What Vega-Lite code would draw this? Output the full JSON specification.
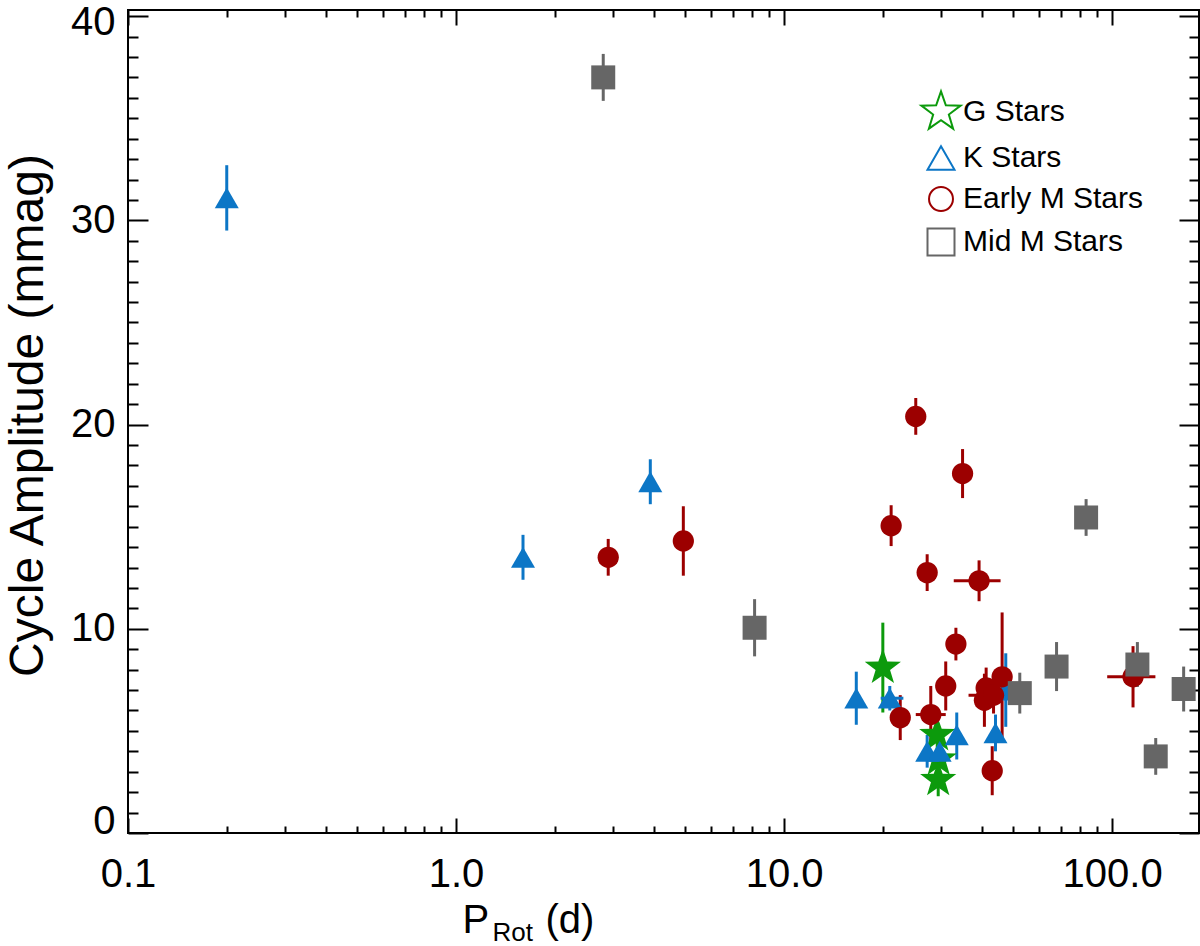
{
  "$schema": "https://vega.github.io/schema/vega-lite/v6.json",
  "width": 1071,
  "height": 823,
  "autosize": {"type": "none"},
  "padding": {"left": 128, "top": 10, "right": 1, "bottom": 113},
  "background": "white",
  "config": {
    "font": "Liberation Sans",
    "view": {"stroke": "black", "strokeWidth": 2},
    "axis": {
      "grid": false,
      "domain": false,
      "tickColor": "black",
      "tickWidth": 2,
      "labelColor": "black",
      "labelFont": "Liberation Sans",
      "titleFont": "Liberation Sans",
      "titleColor": "black",
      "titleFontWeight": "normal",
      "labelFlush": false,
      "labelBound": false
    }
  },
  "data": {
    "values": [
      {"g": "G Stars", "p": 20.0, "a": 8.1, "alo": 5.9, "ahi": 10.3},
      {"g": "G Stars", "p": 29.3, "a": 4.8, "alo": 3.9, "ahi": 5.7},
      {"g": "G Stars", "p": 29.6, "a": 3.6, "alo": 2.7, "ahi": 4.5},
      {"g": "G Stars", "p": 29.5, "a": 2.6, "alo": 1.8, "ahi": 3.4},
      {"g": "K Stars", "p": 0.2, "a": 31.1, "alo": 29.5, "ahi": 32.7},
      {"g": "K Stars", "p": 1.6, "a": 13.5, "alo": 12.4, "ahi": 14.6},
      {"g": "K Stars", "p": 3.91, "a": 17.2, "alo": 16.1, "ahi": 18.3},
      {"g": "K Stars", "p": 16.6, "a": 6.6, "alo": 5.3, "ahi": 7.9},
      {"g": "K Stars", "p": 21.0, "a": 6.6, "alo": 6.0, "ahi": 7.2, "plo": 19.7, "phi": 23.1},
      {"g": "K Stars", "p": 27.3, "a": 4.0, "alo": 3.2, "ahi": 4.8},
      {"g": "K Stars", "p": 29.8, "a": 4.0, "alo": 3.2, "ahi": 4.8},
      {"g": "K Stars", "p": 33.6, "a": 4.8, "alo": 3.6, "ahi": 5.9},
      {"g": "K Stars", "p": 44.1, "a": 4.9, "alo": 4.0, "ahi": 5.8},
      {"g": "K Stars", "p": 47.4, "a": 7.0, "alo": 5.2, "ahi": 8.8},
      {"g": "Early M Stars", "p": 2.91, "a": 13.5, "alo": 12.6, "ahi": 14.4},
      {"g": "Early M Stars", "p": 4.93, "a": 14.3, "alo": 12.6, "ahi": 16.0},
      {"g": "Early M Stars", "p": 25.2, "a": 20.4, "alo": 19.5, "ahi": 21.3},
      {"g": "Early M Stars", "p": 35.0, "a": 17.6, "alo": 16.4, "ahi": 18.8},
      {"g": "Early M Stars", "p": 21.2, "a": 15.05, "alo": 14.05, "ahi": 16.05},
      {"g": "Early M Stars", "p": 27.3, "a": 12.75, "alo": 11.85, "ahi": 13.65},
      {"g": "Early M Stars", "p": 39.3, "a": 12.35, "alo": 11.35, "ahi": 13.35, "plo": 32.9, "phi": 45.7},
      {"g": "Early M Stars", "p": 22.6, "a": 5.65, "alo": 4.55, "ahi": 6.75},
      {"g": "Early M Stars", "p": 28.0, "a": 5.8, "alo": 4.4, "ahi": 7.2, "plo": 25.2, "phi": 31.1},
      {"g": "Early M Stars", "p": 31.1, "a": 7.2, "alo": 6.0, "ahi": 8.4},
      {"g": "Early M Stars", "p": 33.4, "a": 9.25, "alo": 8.45, "ahi": 10.05},
      {"g": "Early M Stars", "p": 43.1, "a": 3.05, "alo": 1.85, "ahi": 4.25},
      {"g": "Early M Stars", "p": 40.8, "a": 6.5, "alo": 5.2, "ahi": 7.8},
      {"g": "Early M Stars", "p": 41.3, "a": 7.1, "alo": 6.1, "ahi": 8.1},
      {"g": "Early M Stars", "p": 43.5, "a": 6.75, "alo": 5.85, "ahi": 7.65, "plo": 36.5, "phi": 51.8},
      {"g": "Early M Stars", "p": 46.2, "a": 7.65, "alo": 4.5, "ahi": 10.8},
      {"g": "Early M Stars", "p": 115.8, "a": 7.65, "alo": 6.15, "ahi": 9.15, "plo": 96.6, "phi": 135.5},
      {"g": "Mid M Stars", "p": 2.81, "a": 37.0, "alo": 35.85, "ahi": 38.15},
      {"g": "Mid M Stars", "p": 8.13, "a": 10.05, "alo": 8.65, "ahi": 11.45},
      {"g": "Mid M Stars", "p": 83.3, "a": 15.45, "alo": 14.55, "ahi": 16.35},
      {"g": "Mid M Stars", "p": 52.3, "a": 6.85, "alo": 5.85, "ahi": 7.85},
      {"g": "Mid M Stars", "p": 67.7, "a": 8.15, "alo": 6.95, "ahi": 9.35},
      {"g": "Mid M Stars", "p": 119.4, "a": 8.25, "alo": 7.15, "ahi": 9.35},
      {"g": "Mid M Stars", "p": 165.2, "a": 7.05, "alo": 5.95, "ahi": 8.15},
      {"g": "Mid M Stars", "p": 135.8, "a": 3.75, "alo": 2.85, "ahi": 4.65}
    ]
  },
  "layer": [
    {
      "mark": {"type": "point", "opacity": 0},
      "encoding": {
        "x": {
          "field": "p",
          "type": "quantitative",
          "scale": {"type": "log", "domain": [0.1, 184], "nice": false},
          "axis": {"orient": "bottom", "values": [0.1, 1, 10, 100], "tickSize": -15, "labels": false, "title": null}
        },
        "y": {
          "field": "a",
          "type": "quantitative",
          "scale": {"domain": [0, 40.3], "nice": false, "zero": false},
          "axis": {"orient": "left", "values": [0, 10, 20, 30, 40], "tickSize": -20, "labels": false, "title": null}
        }
      }
    },
    {
      "mark": {"type": "point", "opacity": 0},
      "encoding": {
        "x": {
          "field": "p",
          "type": "quantitative",
          "scale": {"type": "log", "domain": [0.1, 184], "nice": false},
          "axis": {
            "orient": "bottom",
            "values": [0.2, 0.3, 0.4, 0.5, 0.6, 0.7, 0.8, 0.9, 2, 3, 4, 5, 6, 7, 8, 9, 20, 30, 40, 50, 60, 70, 80, 90],
            "tickSize": -7,
            "labels": false,
            "title": "Rot",
            "titleFontSize": 26,
            "titleX": 364,
            "titleY": 107,
            "titleAlign": "left",
            "titleBaseline": "alphabetic"
          }
        },
        "y": {
          "field": "a",
          "type": "quantitative",
          "scale": {"domain": [0, 40.3], "nice": false, "zero": false},
          "axis": {
            "orient": "left",
            "values": [1, 2, 3, 4, 5, 6, 7, 8, 9, 11, 12, 13, 14, 15, 16, 17, 18, 19, 21, 22, 23, 24, 25, 26, 27, 28, 29, 31, 32, 33, 34, 35, 36, 37, 38, 39],
            "tickSize": -10,
            "labels": false,
            "title": null
          }
        }
      }
    },
    {
      "mark": {"type": "rule", "strokeWidth": 3},
      "encoding": {
        "x": {
          "field": "p",
          "type": "quantitative",
          "scale": {"type": "log", "domain": [0.1, 184], "nice": false},
          "axis": {
            "orient": "top",
            "values": [0.2, 0.3, 0.4, 0.5, 0.6, 0.7, 0.8, 0.9, 2, 3, 4, 5, 6, 7, 8, 9, 20, 30, 40, 50, 60, 70, 80, 90],
            "tickSize": -7,
            "labels": false,
            "title": null
          }
        },
        "y": {
          "field": "alo",
          "type": "quantitative",
          "scale": {"domain": [0, 40.3], "nice": false, "zero": false},
          "axis": {
            "orient": "right",
            "values": [1, 2, 3, 4, 5, 6, 7, 8, 9, 11, 12, 13, 14, 15, 16, 17, 18, 19, 21, 22, 23, 24, 25, 26, 27, 28, 29, 31, 32, 33, 34, 35, 36, 37, 38, 39],
            "tickSize": -10,
            "labels": false,
            "title": null
          }
        },
        "y2": {"field": "ahi"},
        "color": {
          "field": "g",
          "type": "nominal",
          "scale": {"domain": ["G Stars", "K Stars", "Early M Stars", "Mid M Stars"], "range": ["#0c9a0c", "#0c76c6", "#9c0000", "#666666"]},
          "legend": null
        }
      }
    },
    {
      "transform": [{"filter": "isValid(datum.plo)"}],
      "mark": {"type": "rule", "strokeWidth": 3},
      "encoding": {
        "x": {
          "field": "plo",
          "type": "quantitative",
          "scale": {"type": "log", "domain": [0.1, 184], "nice": false},
          "axis": {"orient": "top", "values": [0.1, 1, 10, 100], "tickSize": -15, "labels": false, "title": null}
        },
        "x2": {"field": "phi"},
        "y": {
          "field": "a",
          "type": "quantitative",
          "scale": {"domain": [0, 40.3], "nice": false, "zero": false},
          "axis": {"orient": "right", "values": [0, 10, 20, 30, 40], "tickSize": -20, "labels": false, "title": null}
        },
        "color": {
          "field": "g",
          "type": "nominal",
          "scale": {"domain": ["G Stars", "K Stars", "Early M Stars", "Mid M Stars"], "range": ["#0c9a0c", "#0c76c6", "#9c0000", "#666666"]},
          "legend": null
        }
      }
    },
    {
      "mark": {"type": "point", "filled": true, "opacity": 1},
      "encoding": {
        "x": {
          "field": "p",
          "type": "quantitative",
          "scale": {"type": "log", "domain": [0.1, 184], "nice": false},
          "axis": {
            "orient": "bottom",
            "values": [0.1, 1, 10, 100],
            "format": ".1f",
            "ticks": false,
            "tickSize": 0,
            "labelFontSize": 40,
            "labelPadding": 21,
            "labelAlign": "center",
            "labelBaseline": "top",
            "title": "P",
            "titleFontSize": 40,
            "titleX": 334,
            "titleY": 99,
            "titleAlign": "left",
            "titleBaseline": "alphabetic"
          }
        },
        "y": {
          "field": "a",
          "type": "quantitative",
          "scale": {"domain": [0, 40.3], "nice": false, "zero": false},
          "axis": {
            "orient": "left",
            "values": [0, 10, 20, 30, 40],
            "ticks": false,
            "tickSize": 0,
            "labelFontSize": 40,
            "labelPadding": 13,
            "labelAlign": "right",
            "labelBaseline": {"condition": {"test": "datum.value === 0", "value": "alphabetic"}, "value": "middle"},
            "labelOffset": {"condition": {"test": "datum.value === 40", "value": 6}, "value": 0},
            "title": "Cycle Amplitude (mmag)",
            "titleFontSize": 48,
            "titleAngle": 270,
            "titleX": -100,
            "titleY": 405,
            "titleAlign": "center",
            "titleBaseline": "middle"
          }
        },
        "color": {
          "field": "g",
          "type": "nominal",
          "scale": {"domain": ["G Stars", "K Stars", "Early M Stars", "Mid M Stars"], "range": ["#0c9a0c", "#0c76c6", "#9c0000", "#666666"]},
          "legend": null
        },
        "shape": {
          "field": "g",
          "type": "nominal",
          "scale": {
            "domain": ["G Stars", "K Stars", "Early M Stars", "Mid M Stars"],
            "range": ["M0,-1L0.235,-0.324L0.951,-0.309L0.38,0.124L0.588,0.809L0,0.4L-0.588,0.809L-0.38,0.124L-0.951,-0.309L-0.235,-0.324Z", "triangle-up", "circle", "square"]
          },
          "legend": null
        },
        "size": {
          "field": "g",
          "type": "ordinal",
          "scale": {"type": "ordinal", "domain": ["G Stars", "K Stars", "Early M Stars", "Mid M Stars"], "range": [1450, 576, 452, 576]},
          "legend": null
        }
      }
    },
    {
      "transform": [{"filter": "false"}],
      "mark": {"type": "point", "filled": false, "strokeWidth": 2, "opacity": 1},
      "encoding": {
        "x": {
          "field": "p",
          "type": "quantitative",
          "scale": {"type": "log", "domain": [0.1, 184], "nice": false},
          "axis": {
            "orient": "bottom",
            "ticks": false,
            "labels": false,
            "title": "(d)",
            "titleFontSize": 40,
            "titleX": 417,
            "titleY": 99,
            "titleAlign": "left",
            "titleBaseline": "alphabetic"
          }
        },
        "y": {
          "field": "a",
          "type": "quantitative",
          "scale": {"domain": [0, 40.3], "nice": false, "zero": false},
          "axis": null
        },
        "stroke": {
          "field": "g",
          "type": "nominal",
          "scale": {"domain": ["G Stars", "K Stars", "Early M Stars", "Mid M Stars"], "range": ["#0c9a0c", "#0c76c6", "#9c0000", "#666666"]},
          "legend": {
            "orient": "none", "legendX": 791, "legendY": 80, "title": null,
            "labelFontSize": 30, "labelFont": "Liberation Sans", "labelColor": "black",
            "labelOffset": 0, "labelLimit": 500, "rowPadding": 9, "symbolStrokeWidth": 2
          }
        },
        "shape": {
          "field": "g",
          "type": "nominal",
          "scale": {
            "domain": ["G Stars", "K Stars", "Early M Stars", "Mid M Stars"],
            "range": ["M0,-1L0.235,-0.324L0.951,-0.309L0.38,0.124L0.588,0.809L0,0.4L-0.588,0.809L-0.38,0.124L-0.951,-0.309L-0.235,-0.324Z", "triangle-up", "circle", "square"]
          },
          "legend": {
            "orient": "none", "legendX": 791, "legendY": 80, "title": null,
            "labelFontSize": 30, "labelFont": "Liberation Sans", "labelColor": "black",
            "labelOffset": 0, "labelLimit": 500, "rowPadding": 9, "symbolStrokeWidth": 2
          }
        },
        "size": {
          "field": "g",
          "type": "ordinal",
          "scale": {"type": "ordinal", "domain": ["G Stars", "K Stars", "Early M Stars", "Mid M Stars"], "range": [1700, 729, 573, 729]},
          "legend": {
            "orient": "none", "legendX": 791, "legendY": 80, "title": null,
            "labelFontSize": 30, "labelFont": "Liberation Sans", "labelColor": "black",
            "labelOffset": 0, "labelLimit": 500, "rowPadding": 9, "symbolStrokeWidth": 2
          }
        }
      }
    }
  ],
  "resolve": {
    "axis": {"x": "independent", "y": "independent"},
    "scale": {"size": "independent"},
    "legend": {"color": "independent", "shape": "independent", "size": "independent", "stroke": "independent"}
  }
}
